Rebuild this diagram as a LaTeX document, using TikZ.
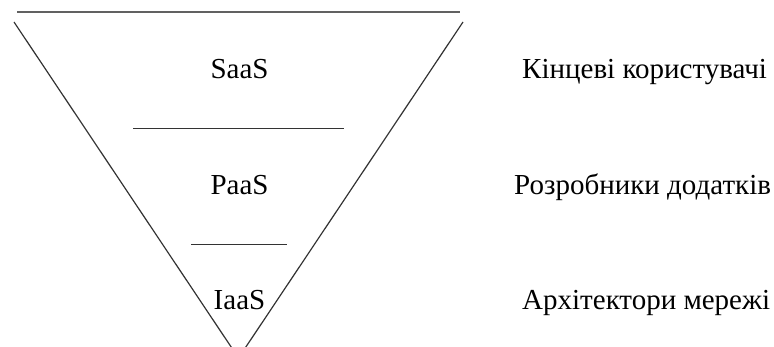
\documentclass[tikz,border=0pt]{standalone}
\usepackage{fontspec}
\setmainfont{Liberation Serif}
\begin{document}
\begin{tikzpicture}[x=1pt,y=-1pt,
  edge/.style={line width=1.2pt,draw=black!80},
  topedge/.style={line width=2pt,draw=black!62},
  layer/.style={anchor=base,font=\fontsize{29}{34}\selectfont,inner sep=0pt},
  role/.style={anchor=base west,font=\fontsize{29}{34}\selectfont,inner sep=0pt}]
  \useasboundingbox (0,0) rectangle (774,347);
  \clip (0,0) rectangle (774,347);
  % funnel outline
  \coordinate (tl) at (14,22);
  \coordinate (tr) at (463,22);
  \coordinate (apex) at (238.5,358);
  \coordinate (capL) at (17,12.5);
  \coordinate (capR) at (460,12.5);
  \draw[topedge] (capL) -- (capR);
  \draw[edge] (tl) -- (apex) -- (tr);
  % layer separators
  \coordinate (s1L) at (133,128.5);
  \coordinate (s1R) at (344,128.5);
  \coordinate (s2L) at (191,244.5);
  \coordinate (s2R) at (287,244.5);
  \draw[edge] (s1L) -- (s1R);
  \draw[edge] (s2L) -- (s2R);
  % layer names
  \node[layer] (saas) at (239.5,79) {SaaS};
  \node[layer] (paas) at (239.5,194.5) {PaaS};
  \node[layer] (iaas) at (239.5,309.5) {IaaS};
  % user groups
  \node[role] (users) at (522,79) {Кінцеві користувачі};
  \node[role] (devs) at (514,194.5) {Розробники додатків};
  \node[role] (archs) at (522,309.5) {Архітектори мережі};
\end{tikzpicture}
\end{document}
